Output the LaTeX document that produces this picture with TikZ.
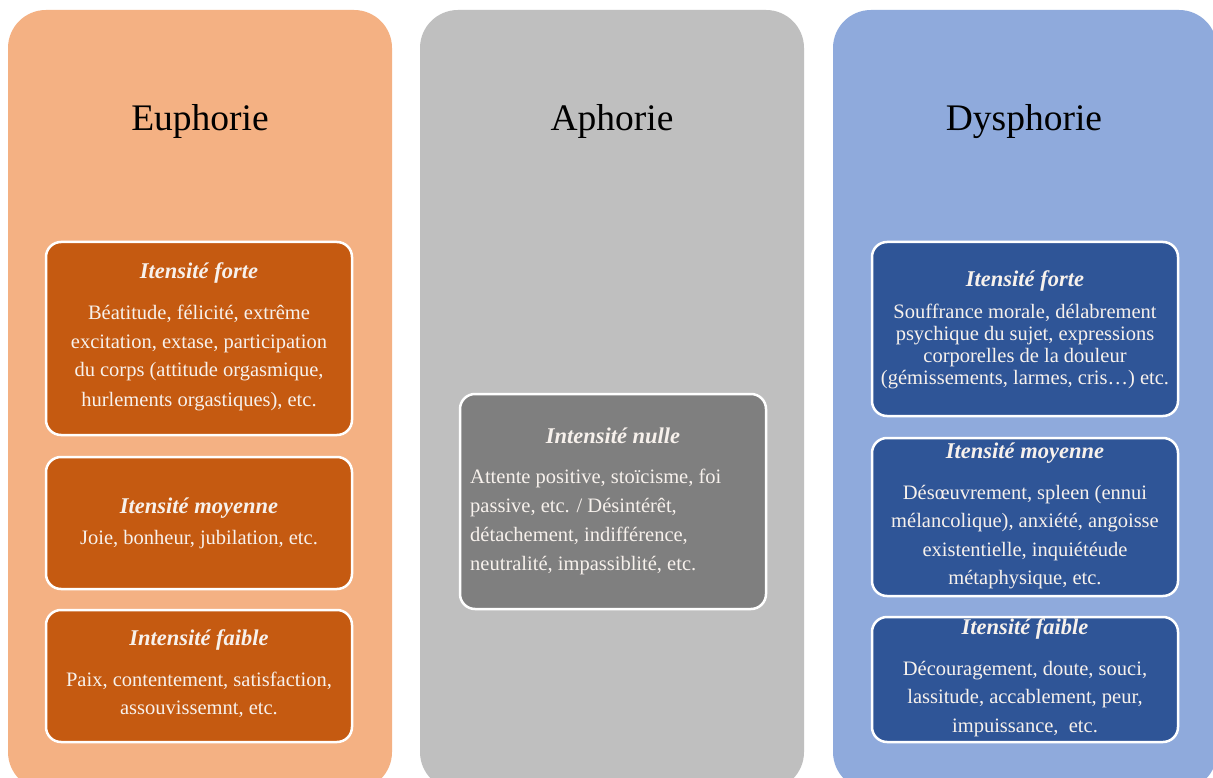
\documentclass[tikz,border=0pt]{standalone}
\usepackage{fontspec}
\setmainfont{Liberation Serif}
\newcommand\clines[1]{\vtop{\halign{\hfil##\hfil\cr#1\crcr}}}
\newcommand\llines[1]{\vtop{\halign{##\hfil\cr#1\crcr}}}
\definecolor{orcol}{HTML}{F4B183}
\definecolor{orbox}{HTML}{C55A11}
\definecolor{grcol}{HTML}{BFBFBF}
\definecolor{grbox}{HTML}{7F7F7F}
\definecolor{blcol}{HTML}{8FAADC}
\definecolor{blbox}{HTML}{2F5597}
\definecolor{txt}{HTML}{F7F1EC}
\tikzset{
  column/.style={rounded corners=38pt},
  ibox/.style={draw=white, line width=2.5pt, rounded corners=15pt},
  ttl/.style={anchor=base, inner sep=0pt, font=\fontsize{37.5}{40}\selectfont},
  hd/.style={anchor=base, inner sep=0pt, text=txt, font=\fontsize{22.5}{25}\selectfont\bfseries\itshape},
  bd/.style={anchor=base, inner sep=0pt, text=txt},
}
\begin{document}
\begin{tikzpicture}[x=1pt, y=-1pt]
\useasboundingbox (0,0) rectangle (1213,778);
\clip (0,0) rectangle (1213,778);
\fill[white] (0,0) rectangle (1213,778);
% columns
\fill[orcol, column] (8,10) rectangle (392,790);
\fill[grcol, column] (420,10) rectangle (804,790);
\fill[blcol, column] (833,10) rectangle (1217,790);
\node[ttl] (t1) at (200,131) {Euphorie};
\node[ttl] (t2) at (612,131) {Aphorie};
\node[ttl] (t3) at (1024,131) {Dysphorie};
% orange boxes
\filldraw[orbox, ibox] (46,242) rectangle (352,435);
\node[hd] (o1h) at (199,279) {Itensité forte};
\node[bd] (o1b) at (199,319) {\fontsize{20.5}{29}\selectfont\clines{Béatitude, félicité, extrême\cr excitation, extase, participation\cr du corps (attitude orgasmique,\cr hurlements orgastiques), etc.}};
\filldraw[orbox, ibox] (46,457) rectangle (352,589);
\node[hd] (o2h) at (199,513) {Itensité moyenne};
\node[bd] (o2b) at (199,544) {\fontsize{20.5}{29}\selectfont Joie, bonheur, jubilation, etc.};
\filldraw[orbox, ibox] (46,610) rectangle (352,742);
\node[hd] (o3h) at (199,645) {Intensité faible};
\node[bd] (o3b) at (199,686) {\fontsize{20.5}{28}\selectfont\clines{Paix, contentement, satisfaction,\cr assouvissemnt, etc.}};
% gray box
\filldraw[grbox, ibox] (460,394) rectangle (766,609);
\node[hd] (g1h) at (613,443) {Intensité nulle};
\node[bd, anchor=base west] (g1b) at (470,483) {\fontsize{20.5}{29}\selectfont\llines{Attente positive, stoïcisme, foi\cr passive, etc. / Désintérêt,\cr détachement, indifférence,\cr neutralité, impassiblité, etc.}};
% blue boxes
\filldraw[blbox, ibox] (872,242) rectangle (1178,416);
\node[hd] (b1h) at (1025,287) {Itensité forte};
\node[bd] (b1b) at (1025,318) {\fontsize{20.5}{22}\selectfont\clines{Souffrance morale, délabrement\cr psychique du sujet, expressions\cr corporelles de la douleur\cr (gémissements, larmes, cris…) etc.}};
\filldraw[blbox, ibox] (872,438) rectangle (1178,596);
\node[hd] (b2h) at (1025,458) {Itensité moyenne};
\node[bd] (b2b) at (1025,499) {\fontsize{20.5}{28.5}\selectfont\clines{Désœuvrement, spleen (ennui\cr mélancolique), anxiété, angoisse\cr existentielle, inquiétéude\cr métaphysique, etc.}};
\filldraw[blbox, ibox] (872,617) rectangle (1178,742);
\node[hd] (b3h) at (1025,634) {Itensité faible};
\node[bd] (b3b) at (1025,675) {\fontsize{20.5}{28.5}\selectfont\clines{Découragement, doute, souci,\cr lassitude, accablement, peur,\cr impuissance,\ \ etc.}};
\end{tikzpicture}
\end{document}
